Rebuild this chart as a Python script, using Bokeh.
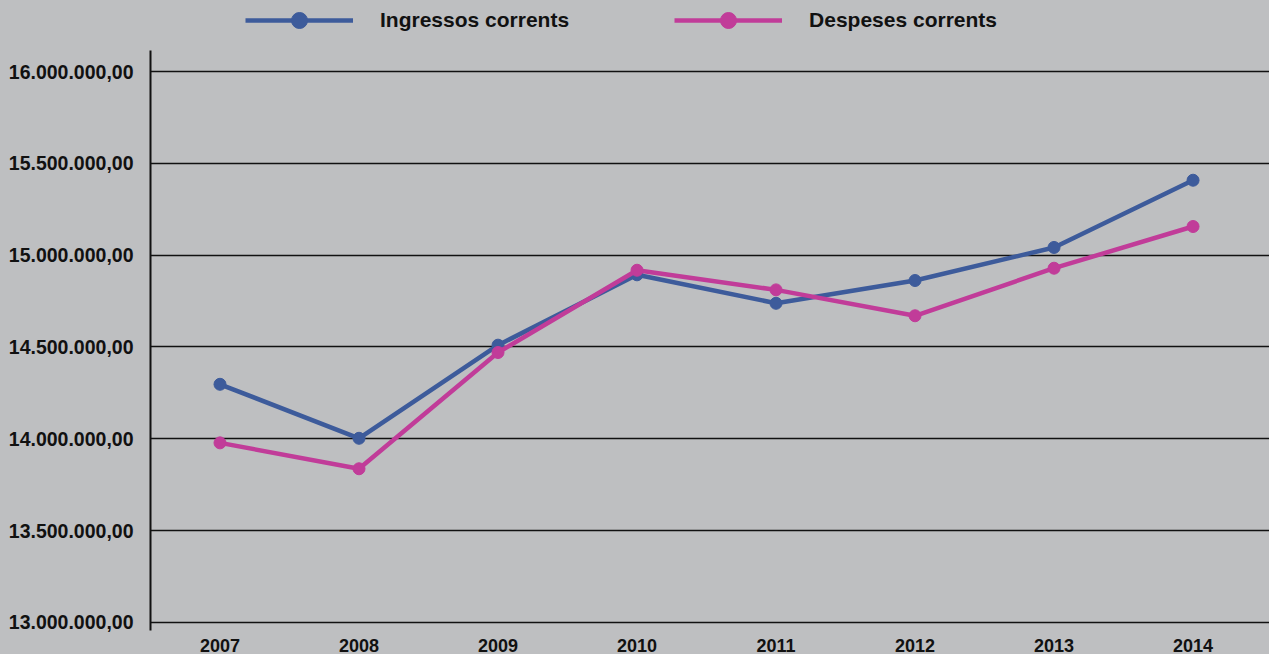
from bokeh.plotting import figure
from bokeh.layouts import column
from bokeh.models import Legend, LegendItem, FixedTicker, Range1d
from bokeh.embed import file_html
from bokeh.resources import INLINE

years = [2007, 2008, 2009, 2010, 2011, 2012, 2013, 2014]
ingressos = [14297000, 14003000, 14510000, 14893000, 14738000, 14862000, 15042000, 15408000]
despeses = [13978000, 13837000, 14470000, 14918000, 14811000, 14670000, 14929000, 15156000]
y_ticks = [13000000, 13500000, 14000000, 14500000, 15000000, 15500000, 16000000]
y_tick_labels = ["13.000.000,00", "13.500.000,00", "14.000.000,00", "14.500.000,00",
                 "15.000.000,00", "15.500.000,00", "16.000.000,00"]
series_names = ["Ingressos corrents", "Despeses corrents"]
colors = ["#3d5b9b", "#c13c99"]
BG = "#bebfc1"
FONT = "Liberation Sans"

# main chart
p = figure(frame_width=1119, frame_height=580, output_backend="svg", toolbar_location=None,
           x_range=Range1d(2006.5, 2014.55), y_range=Range1d(12956440, 16114340),
           min_border_left=150, min_border_right=0, min_border_top=0, min_border_bottom=0)
p.background_fill_color = BG
p.border_fill_color = BG
p.outline_line_color = None
p.styles = {"background-color": BG}

p.xgrid.visible = False
p.ygrid.ticker = FixedTicker(ticks=y_ticks)
p.ygrid.grid_line_color = "#111111"
p.ygrid.grid_line_width = 1.5

p.yaxis.ticker = FixedTicker(ticks=y_ticks)
p.yaxis.major_label_overrides = {t: l for t, l in zip(y_ticks, y_tick_labels)}
p.yaxis.major_tick_line_color = None
p.yaxis.minor_tick_line_color = None
p.yaxis.axis_line_color = "#111111"
p.yaxis.axis_line_width = 2
p.yaxis.major_label_standoff = 11
p.yaxis.major_label_text_font = FONT
p.yaxis.major_label_text_font_style = "bold"
p.yaxis.major_label_text_font_size = "19.5px"
p.yaxis.major_label_text_color = "#111111"

p.xaxis.ticker = FixedTicker(ticks=years)
p.xaxis.major_label_overrides = {y: str(y) for y in years}
p.xaxis.axis_line_color = None
p.xaxis.major_tick_line_color = None
p.xaxis.minor_tick_line_color = None
p.xaxis.major_label_standoff = 2
p.xaxis.major_label_text_font = FONT
p.xaxis.major_label_text_font_style = "bold"
p.xaxis.major_label_text_font_size = "18px"
p.xaxis.major_label_text_color = "#111111"

for vals, c in zip([ingressos, despeses], colors):
    p.line(years, vals, line_color=c, line_width=4.5)
    p.scatter(years, vals, size=12, fill_color=c, line_color=c)

# legend strip on top
lg = figure(width=1269, height=50, output_backend="svg", toolbar_location=None,
            x_axis_type=None, y_axis_type=None, x_range=Range1d(0, 1), y_range=Range1d(0, 1),
            min_border=0)
lg.background_fill_color = BG
lg.border_fill_color = BG
lg.outline_line_color = None
lg.grid.visible = False
lg.styles = {"background-color": BG}

items = []
for vals, name, c in zip([ingressos, despeses], series_names, colors):
    l = lg.line(years, vals, line_color=c, line_width=4.5)
    s = lg.scatter(years, vals, size=12, fill_color=c, line_color=c)
    items.append(LegendItem(label=name, renderers=[l, s]))

legend = Legend(items=items, orientation="horizontal", location=(95, 10),
                glyph_width=108, glyph_height=40, label_standoff=27, spacing=105,
                padding=0, margin=0, background_fill_alpha=0, border_line_alpha=0,
                label_text_font=FONT, label_text_font_style="bold",
                label_text_font_size="21px", label_text_color="#111111")
lg.add_layout(legend, "center")

layout = column(lg, p, spacing=0)
layout.styles = {"background-color": BG}
open("out.html", "w").write(file_html(layout, INLINE))
